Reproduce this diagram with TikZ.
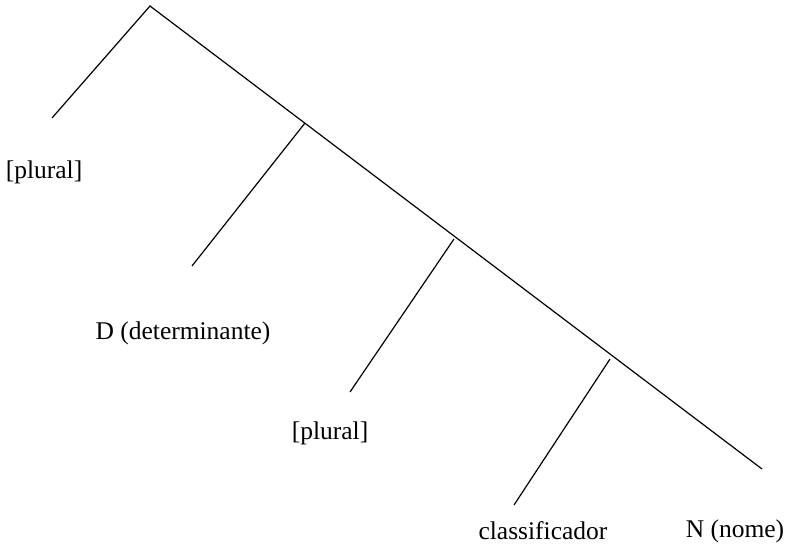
\documentclass[tikz,border=0pt]{standalone}
\usepackage{fontspec}
\setmainfont{Liberation Serif}
\begin{document}
\begin{tikzpicture}[x=1pt,y=-1pt,line width=1.2pt,
  lbl/.style={inner sep=0pt,font=\fontsize{25.5}{30}\selectfont}]
\useasboundingbox (0,0) rectangle (791,548);
\coordinate (top) at (150,6);
\coordinate (end) at (762,469);
\coordinate (j1) at (305,123);
\coordinate (j2) at (454,239);
\coordinate (j3) at (610,359);
\coordinate (b0) at (52,118);
\coordinate (b1) at (192,266);
\coordinate (b2) at (350,392);
\coordinate (b3) at (514,505);
\draw (b0) -- (top) -- (end);
\draw (j1) -- (b1);
\draw (j2) -- (b2);
\draw (j3) -- (b3);

\node[lbl] (pl1) at (44,172) {[plural]};
\node[lbl] (det) at (183,333) {D (determinante)};
\node[lbl] (pl2) at (330,433) {[plural]};
\node[lbl] (cls) at (543,531) {classificador};
\node[lbl] (nom) at (735,531) {N (nome)};
\end{tikzpicture}
\end{document}
